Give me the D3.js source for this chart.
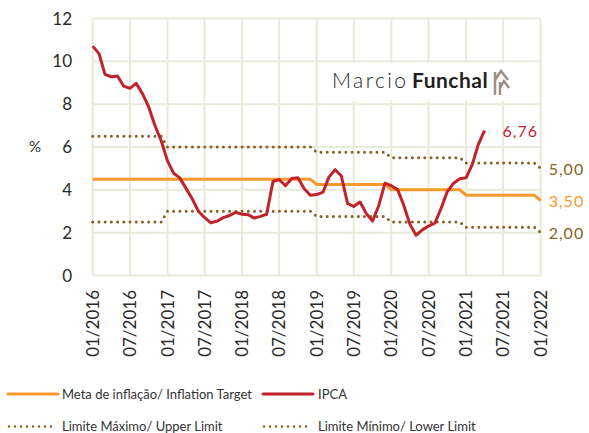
<!DOCTYPE html>
<html>
<head>
<meta charset="utf-8">
<script src="https://cdn.jsdelivr.net/npm/d3@7"></script>
<style>
  body { margin: 0; background: #fff; }
  text { font-family: Lato, "Open Sans", sans-serif; }
</style>
</head>
<body>
<div id="chart"></div>
<script>
const WIDTH = 589;
const HEIGHT = 433;

// IPCA 12-month, monthly from 01/2016 to 04/2021
const ipca = [
    10.71, 10.36, 9.39, 9.28, 9.32, 8.84, 8.74, 8.97, 8.48, 7.87, 6.99, 6.29,
    5.35, 4.76, 4.57, 4.08, 3.60, 3.00, 2.71, 2.46, 2.54, 2.70, 2.80, 2.95,
    2.86, 2.84, 2.68, 2.76, 2.86, 4.39, 4.48, 4.19, 4.53, 4.56, 4.05, 3.75,
    3.78, 3.89, 4.58, 4.94, 4.66, 3.37, 3.22, 3.43, 2.89, 2.54, 3.27, 4.31,
    4.19, 4.01, 3.30, 2.40, 1.88, 2.13, 2.31, 2.44, 3.14, 3.92, 4.31, 4.52,
    4.56, 5.20, 6.10, 6.76
];

// yearly targets and limits
const years = [2016, 2017, 2018, 2019, 2020, 2021, 2022];
const meta = [4.5, 4.5, 4.5, 4.25, 4.0, 3.75, 3.5];
const upper = [6.5, 6.0, 6.0, 5.75, 5.5, 5.25, 5.0];
const lower = [2.5, 3.0, 3.0, 2.75, 2.5, 2.25, 2.0];

const yTicks = [0, 2, 4, 6, 8, 10, 12];
const legendLabels = [
    "Meta de inflação/ Inflation Target",
    "IPCA",
    "Limite Máximo/ Upper Limit",
    "Limite Mínimo/ Lower Limit"
];

const RED = "#c0232b";
const ORANGE = "#f7992c";
const BROWN = "#8a5f22";
const GRID = "#e9e9dc";

const start = new Date(Date.UTC(2016, 0, 1));
const end = new Date(Date.UTC(2022, 0, 1));
const months = d3.utcMonth.range(start, d3.utcMonth.offset(end, 1));

// spread the yearly values over the months
function monthly(vals) {
    return months.map(m => ({ date: m, value: vals[years.indexOf(m.getUTCFullYear())] }));
}

const ipcaData = ipca.map((v, i) => ({ date: months[i], value: v }));
const metaData = monthly(meta);
const upperData = monthly(upper);
const lowerData = monthly(lower);

const svg = d3.select('#chart')
    .append('svg')
    .attr('width', WIDTH)
    .attr('height', HEIGHT);

const x = d3.scaleUtc().domain([start, end]).range([92.7, 540.7]);
const y = d3.scaleLinear().domain([0, 12]).range([275.5, 18.5]);

const xTicks = d3.utcMonth.every(6).range(start, d3.utcMonth.offset(end, 1));

// grid
svg.append('g')
    .selectAll('line')
    .data(yTicks)
    .join('line')
    .attr('x1', x.range()[0])
    .attr('x2', x.range()[1])
    .attr('y1', d => y(d))
    .attr('y2', d => y(d))
    .attr('stroke', GRID)
    .attr('stroke-width', 2);

svg.append('g')
    .selectAll('line')
    .data(xTicks)
    .join('line')
    .attr('x1', d => x(d))
    .attr('x2', d => x(d))
    .attr('y1', y(0))
    .attr('y2', y(12))
    .attr('stroke', GRID)
    .attr('stroke-width', 2);

// y labels
svg.append('g')
    .selectAll('text')
    .data(yTicks)
    .join('text')
    .attr('x', 72)
    .attr('y', d => y(d))
    .attr('dy', '0.36em')
    .attr('text-anchor', 'end')
    .attr('font-size', 17)
    .attr('fill', '#2a2a2a')
    .text(d => d);

svg.append('text')
    .attr('x', 35)
    .attr('y', y(6))
    .attr('dy', '0.36em')
    .attr('text-anchor', 'middle')
    .attr('font-size', 15)
    .attr('fill', '#2a2a2a')
    .text('%');

// x labels
const fmt = d3.utcFormat('%m/%Y');
svg.append('g')
    .selectAll('text')
    .data(xTicks)
    .join('text')
    .attr('transform', d => `translate(${x(d)},290) rotate(-90)`)
    .attr('dy', '0.36em')
    .attr('text-anchor', 'end')
    .attr('font-size', 17)
    .attr('fill', '#2a2a2a')
    .text(d => fmt(d));

// logo
const logo = svg.append('g');
logo.append('rect')
    .attr('x', 322).attr('y', 63)
    .attr('width', 212).attr('height', 38)
    .attr('fill', '#fff');
logo.append('text')
    .attr('x', 332).attr('y', 88)
    .attr('font-size', 21)
    .attr('font-weight', 300)
    .attr('letter-spacing', 2.4)
    .attr('fill', '#231f20')
    .text('Marcio');
logo.append('text')
    .attr('x', 412).attr('y', 88)
    .attr('font-size', 21)
    .attr('font-weight', 700)
    .attr('letter-spacing', 0.5)
    .attr('fill', '#231f20')
    .text('Funchal');
logo.append('path')
    .attr('d', 'M495,72 L495,95 M500,82 L500,95 M495,80 L501,71 L508,80 M500,88 L504,81 L509,88')
    .attr('fill', 'none')
    .attr('stroke', '#9d9088')
    .attr('stroke-width', 2.5);

// lines
const line = d3.line()
    .x(d => x(d.date))
    .y(d => y(d.value));

function dotted(data) {
    svg.append('path')
        .datum(data)
        .attr('d', line)
        .attr('fill', 'none')
        .attr('stroke', BROWN)
        .attr('stroke-width', 3)
        .attr('stroke-linecap', 'round')
        .attr('stroke-dasharray', '0 6.22');
}

dotted(upperData);
dotted(lowerData);

svg.append('path')
    .datum(metaData)
    .attr('d', line)
    .attr('fill', 'none')
    .attr('stroke', ORANGE)
    .attr('stroke-width', 3);

svg.append('path')
    .datum(ipcaData)
    .attr('d', line)
    .attr('fill', 'none')
    .attr('stroke', RED)
    .attr('stroke-width', 3)
    .attr('stroke-linejoin', 'round');

// end labels
const endLabels = [
    { text: '6,76', d: ipcaData[ipcaData.length - 1], color: RED, dx: 18 },
    { text: '5,00', d: upperData[upperData.length - 1], color: BROWN, dx: 8 },
    { text: '3,50', d: metaData[metaData.length - 1], color: ORANGE, dx: 8 },
    { text: '2,00', d: lowerData[lowerData.length - 1], color: BROWN, dx: 8 }
];
svg.append('g')
    .selectAll('text')
    .data(endLabels)
    .join('text')
    .attr('x', d => x(d.d.date) + d.dx)
    .attr('y', d => y(d.d.value))
    .attr('dy', '0.4em')
    .attr('font-size', 16)
    .attr('letter-spacing', 1)
    .attr('fill', d => d.color)
    .text(d => d.text);

// legend
const legend = [
    { label: legendLabels[0], color: ORANGE, dots: false, x: 8, y: 394 },
    { label: legendLabels[1], color: RED, dots: false, x: 263, y: 394 },
    { label: legendLabels[2], color: BROWN, dots: true, x: 8, y: 426.5 },
    { label: legendLabels[3], color: BROWN, dots: true, x: 263, y: 426.5 }
];
const lg = svg.append('g')
    .selectAll('g')
    .data(legend)
    .join('g')
    .attr('transform', d => `translate(${d.x},${d.y})`);

lg.append('line')
    .attr('x1', d => d.dots ? 1 : 0)
    .attr('x2', d => d.dots ? 49 : 50)
    .attr('stroke', d => d.color)
    .attr('stroke-width', d => d.dots ? 2.5 : 3)
    .attr('stroke-linecap', 'round')
    .attr('stroke-dasharray', d => d.dots ? '0 6' : null);

lg.append('text')
    .attr('x', d => d.x < 100 ? 54 : 55)
    .attr('dy', '0.36em')
    .attr('font-size', 13)
    .attr('fill', '#333')
    .text(d => d.label);
</script>
</body>
</html>
